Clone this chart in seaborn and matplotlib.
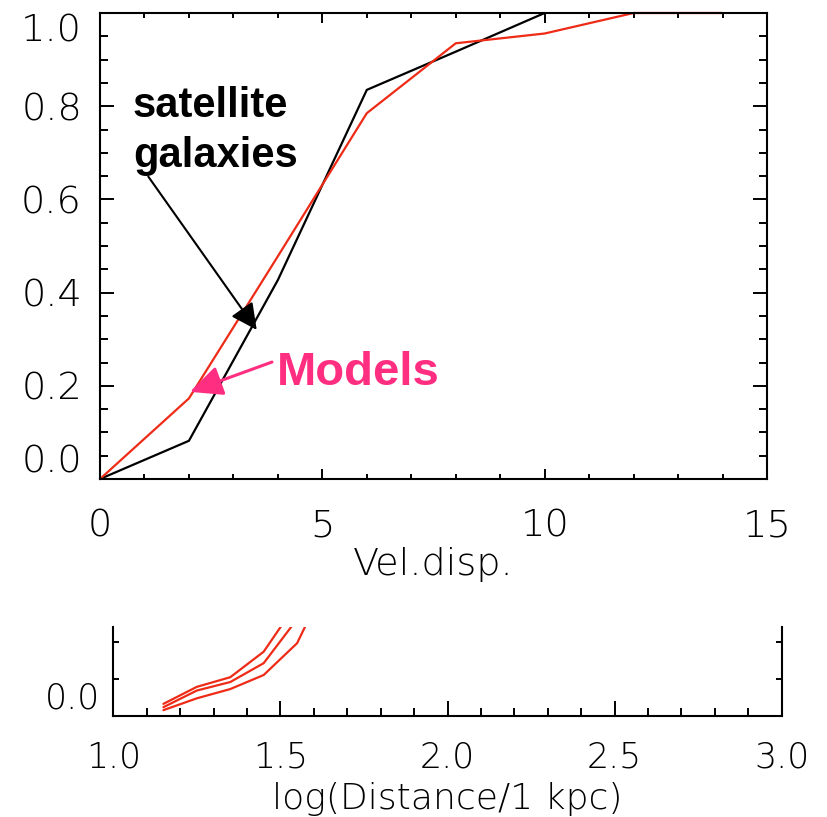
import matplotlib
matplotlib.use("Agg")
import matplotlib.pyplot as plt
import numpy as np
import pandas as pd
import seaborn as sns
from matplotlib.ticker import MultipleLocator, FixedLocator

# Cumulative fraction versus velocity dispersion
vel_disp_sat = [0, 2, 4, 6, 8, 10]
frac_sat = [0.0, 0.082, 0.427, 0.835, 0.917, 1.0]
vel_disp_models = [0, 2, 4, 6, 8, 10, 12, 14]
frac_models = [0.0, 0.173, 0.478, 0.785, 0.935, 0.956, 1.0, 1.0]

# Model curves against log distance (lower panel, cut off at the top)
log_dist = [1.15, 1.25, 1.35, 1.45, 1.55, 1.65]
curve_upper = [0.032, 0.078, 0.104, 0.173, 0.305]
curve_middle = [0.023, 0.068, 0.091, 0.142, 0.261]
curve_lower = [0.015, 0.047, 0.072, 0.110, 0.196, 0.383]

top_xticks = [0, 5, 10, 15]
top_yticks = [0.0, 0.2, 0.4, 0.6, 0.8, 1.0]
bottom_xticks = [1.0, 1.5, 2.0, 2.5, 3.0]

RED = "#EE2B16"
PINK = "#FF2E80"
THIN = 200  # light weight for the axis text

sns.set_theme(style="ticks")
plt.rcParams["font.family"] = ["DejaVu Sans"]
plt.rcParams["font.weight"] = THIN
for key in ["text.color", "axes.labelcolor", "xtick.color", "ytick.color",
            "axes.edgecolor"]:
    plt.rcParams[key] = "black"
plt.rcParams["axes.linewidth"] = 1.5

fig = plt.figure(figsize=(8.27, 8.17), dpi=100)
ax = fig.add_axes([100 / 827, 1 - 479 / 817, 667 / 827, 466 / 817])
ax2 = fig.add_axes([113.3 / 827, 1 - 715.7 / 817, 668.4 / 827, 89 / 817])

sat_df = pd.DataFrame({"v": vel_disp_sat, "f": frac_sat})
mod_df = pd.DataFrame({"v": vel_disp_models, "f": frac_models})
sns.lineplot(data=sat_df, x="v", y="f", ax=ax, color="black", lw=1.6,
             estimator=None, sort=False, clip_on=False)
sns.lineplot(data=mod_df, x="v", y="f", ax=ax, color=RED, lw=1.6,
             estimator=None, sort=False, clip_on=False)

ax.set_xlim(0, 15)
ax.set_ylim(0, 1.0)
ax.xaxis.set_major_locator(FixedLocator(top_xticks))
ax.xaxis.set_minor_locator(MultipleLocator(1))
ax.yaxis.set_major_locator(FixedLocator(top_yticks))
ax.yaxis.set_minor_locator(MultipleLocator(0.05))
ax.set_xticklabels([str(t) for t in top_xticks], fontweight=THIN)
ax.set_yticklabels([f"{t:.1f}" for t in top_yticks], fontweight=THIN)
ax.tick_params(axis="x", which="major", direction="in", length=7.2, width=1.4,
               top=True, bottom=True, labelsize=27.5, pad=21)
ax.tick_params(axis="x", which="minor", direction="in", length=3.8, width=1.4,
               top=True, bottom=True)
ax.tick_params(axis="y", which="major", direction="in", length=10, width=1.4,
               left=True, right=True, labelsize=27.5, pad=13)
ax.tick_params(axis="y", which="minor", direction="in", length=5.8, width=1.4,
               left=True, right=True)
ax.set_xlabel("Vel.disp.", fontsize=27.5, labelpad=3, fontweight=THIN)
ax.set_ylabel("")
for s in ax.spines.values():
    s.set_linewidth(1.5)

# Annotations
ax.text(0.742, 0.777, "satellite", fontsize=30, fontweight="bold",
        family="Liberation Sans", va="baseline", ha="left", color="black")
ax.text(0.742, 0.670, "galaxies", fontsize=30, fontweight="bold",
        family="Liberation Sans", va="baseline", ha="left", color="black")
ax.annotate("", xy=(3.524, 0.320), xytext=(1.086, 0.649),
            arrowprops=dict(arrowstyle="-|>,head_length=0.8,head_width=0.4",
                            color="black", lw=1.5, mutation_scale=20,
                            shrinkA=0, shrinkB=0))
ax.text(3.98, 0.2017, "Models", fontsize=34, fontweight="bold",
        family="Liberation Sans", color=PINK, va="baseline", ha="left")
ax.annotate("", xy=(2.024, 0.187), xytext=(3.868, 0.251),
            arrowprops=dict(arrowstyle="-|>,head_length=0.9,head_width=0.42",
                            color=PINK, lw=2.2, mutation_scale=22,
                            shrinkA=0, shrinkB=0))

# Lower panel
rows = []
for name, ys in [("upper", curve_upper), ("middle", curve_middle),
                 ("lower", curve_lower)]:
    for x, y in zip(log_dist, ys):
        rows.append({"d": x, "f": y, "curve": name})
dist_df = pd.DataFrame(rows)
sns.lineplot(data=dist_df, x="d", y="f", units="curve", estimator=None,
             color=RED, lw=1.6, sort=False, ax=ax2, legend=False)
ax2.set_xlim(1.0, 3.0)
ax2.set_ylim(0, 89 / 370)
ax2.xaxis.set_major_locator(FixedLocator(bottom_xticks))
ax2.xaxis.set_minor_locator(MultipleLocator(0.1))
ax2.set_xticklabels([f"{t:.1f}" for t in bottom_xticks], fontweight=THIN)
ax2.yaxis.set_major_locator(FixedLocator([0.0, 0.1, 0.2]))
ax2.set_yticklabels(["0.0", "", ""], fontweight=THIN)
ax2.tick_params(axis="x", which="major", direction="in", length=10.8,
                width=1.4, labelsize=25, pad=18)
ax2.tick_params(axis="x", which="minor", direction="in", length=5.8,
                width=1.4)
ax2.tick_params(axis="y", which="major", direction="in", length=4.5,
                width=1.4, left=True, right=True, labelsize=25, pad=9.5)
ax2.spines["top"].set_visible(False)
for k in ["left", "right", "bottom"]:
    ax2.spines[k].set_linewidth(1.5)
ax2.set_xlabel("log(Distance/1 kpc)", fontsize=26, labelpad=5,
               fontweight=THIN)
ax2.set_ylabel("")

fig.canvas.draw()
for lab in ax.get_yticklabels():
    if lab.get_text() == "0.0":
        lab.set_va("bottom")
    elif lab.get_text() == "1.0":
        lab.set_va("top")
for lab in ax2.get_yticklabels():
    if lab.get_text() == "0.0":
        lab.set_va("bottom")

fig.savefig("out.png", dpi=100, facecolor="white")
